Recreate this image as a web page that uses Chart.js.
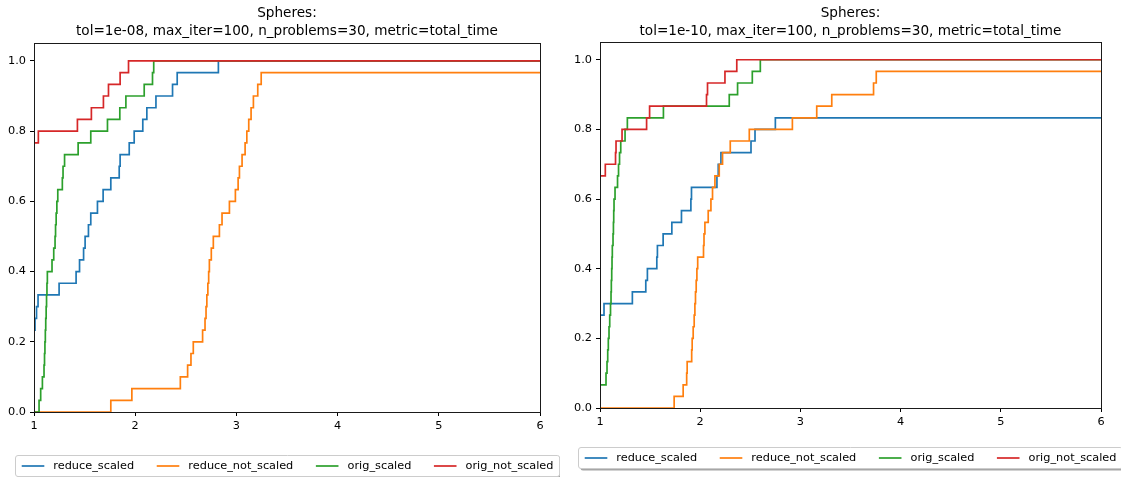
<!DOCTYPE html>
<html><head><meta charset="utf-8">
<script src="https://cdn.jsdelivr.net/npm/chart.js@4"></script>
<style>
html,body{margin:0;padding:0;background:#fff;width:1121px;height:477px;overflow:hidden}
#c1{position:absolute;left:0;top:0}
#c2{position:absolute;left:560px;top:0}
</style></head><body>
<canvas id="c1" width="560" height="477"></canvas>
<canvas id="c2" width="561" height="477"></canvas>
<script>
const SERIES_NAMES = ['reduce_scaled', 'reduce_not_scaled', 'orig_scaled', 'orig_not_scaled'];
const COLORS = ['#1f77b4', '#ff7f0e', '#2ca02c', '#d62728'];
const N_PROBLEMS = 30;
const X_TICKS = [1, 2, 3, 4, 5, 6];
const Y_TICKS = [0, 0.2, 0.4, 0.6, 0.8, 1.0];
const TITLE_LEFT = ['Spheres:', 'tol=1e-08, max_iter=100, n_problems=30, metric=total_time'];
const TITLE_RIGHT = ['Spheres:', 'tol=1e-10, max_iter=100, n_problems=30, metric=total_time'];

// ---- left panel (tol=1e-08): x = performance ratio, k = problems solved ----
const L_BLUE_X = [1, 1.010, 1.025, 1.040, 1.248, 1.416, 1.450, 1.490, 1.505, 1.538, 1.561, 1.627, 1.683, 1.759, 1.842, 1.851, 1.941, 1.990, 2.075, 2.115, 2.205, 2.369, 2.415, 2.822, 6];
const L_BLUE_K = [7, 8, 9, 10, 11, 12, 13, 14, 15, 16, 17, 18, 19, 20, 21, 22, 23, 24, 25, 26, 27, 28, 29, 30, 30];
const L_ORANGE_X = [1, 1.759, 1.967, 2.446, 2.518, 2.551, 2.574, 2.666, 2.690, 2.700, 2.708, 2.718, 2.726, 2.733, 2.752, 2.772, 2.832, 2.858, 2.931, 2.990, 3.017, 3.030, 3.056, 3.086, 3.103, 3.122, 3.145, 3.168, 3.211, 3.245, 6];
const L_ORANGE_K = [0, 1, 2, 3, 4, 5, 6, 7, 8, 9, 10, 11, 12, 13, 14, 15, 16, 17, 18, 19, 20, 21, 22, 23, 24, 25, 26, 27, 28, 29, 29];
const L_GREEN_X = [1, 1.050, 1.066, 1.083, 1.099, 1.104, 1.108, 1.112, 1.116, 1.120, 1.124, 1.128, 1.132, 1.178, 1.195, 1.208, 1.213, 1.219, 1.226, 1.235, 1.280, 1.287, 1.302, 1.436, 1.561, 1.726, 1.848, 1.908, 2.089, 2.171, 2.183, 6];
const L_GREEN_K = [0, 1, 2, 3, 4, 5, 6, 7, 8, 9, 10, 11, 12, 13, 14, 15, 16, 17, 18, 19, 20, 21, 22, 23, 24, 25, 26, 27, 28, 29, 30, 30];
const L_RED_X = [1, 1.043, 1.429, 1.567, 1.686, 1.736, 1.851, 1.934, 6];
const L_RED_K = [23, 24, 25, 26, 27, 28, 29, 30, 30];

// ---- right panel (tol=1e-10) ----
const R_BLUE_X = [1, 1.040, 1.323, 1.457, 1.473, 1.567, 1.573, 1.630, 1.717, 1.813, 1.907, 1.913, 2.167, 2.180, 2.207, 2.507, 2.547, 2.750, 6];
const R_BLUE_K = [8, 9, 10, 11, 12, 13, 14, 15, 16, 17, 18, 19, 20, 21, 22, 23, 24, 25, 25];
const R_ORANGE_X = [1, 1.740, 1.830, 1.865, 1.870, 1.915, 1.920, 1.930, 1.940, 1.947, 1.953, 1.960, 1.967, 1.975, 2.033, 2.038, 2.047, 2.080, 2.107, 2.123, 2.147, 2.190, 2.223, 2.300, 2.490, 2.920, 3.163, 3.313, 3.730, 3.757, 6];
const R_ORANGE_K = [0, 1, 2, 3, 4, 5, 6, 7, 8, 9, 10, 11, 12, 13, 14, 15, 16, 17, 18, 19, 20, 21, 22, 23, 24, 25, 26, 27, 28, 29, 29];
const R_GREEN_X = [1, 1.060, 1.070, 1.077, 1.083, 1.090, 1.097, 1.105, 1.110, 1.113, 1.117, 1.120, 1.123, 1.130, 1.134, 1.137, 1.140, 1.150, 1.175, 1.185, 1.195, 1.207, 1.250, 1.273, 1.633, 2.290, 2.373, 2.520, 2.600, 6];
const R_GREEN_K = [2, 3, 4, 5, 6, 7, 8, 9, 10, 11, 12, 13, 14, 15, 16, 17, 18, 19, 20, 21, 22, 23, 24, 25, 26, 27, 28, 29, 30, 30];
const R_RED_X = [1, 1.053, 1.155, 1.160, 1.220, 1.465, 1.495, 2.063, 2.073, 2.247, 2.365, 6];
const R_RED_K = [20, 21, 22, 23, 24, 25, 26, 27, 28, 29, 30, 30];

const LEFT_DATA = [[L_BLUE_X, L_BLUE_K], [L_ORANGE_X, L_ORANGE_K], [L_GREEN_X, L_GREEN_K], [L_RED_X, L_RED_K]];
const RIGHT_DATA = [[R_BLUE_X, R_BLUE_K], [R_ORANGE_X, R_ORANGE_K], [R_GREEN_X, R_GREEN_K], [R_RED_X, R_RED_K]];

const FONT = 'DejaVu Sans';
const TICK_FS = 11.3;

const framePlugin = {
  id: 'frame',
  afterDatasetsDraw(chart) {
    const {ctx, chartArea: a} = chart;
    ctx.save();
    ctx.strokeStyle = '#1a1a1a';
    ctx.lineWidth = 1;
    const l = Math.round(a.left) + 0.5, t = Math.round(a.top) + 0.5;
    const r = Math.round(a.right) + 0.5, b = Math.round(a.bottom) + 0.5;
    ctx.strokeRect(l, t, r - l, b - t);
    ctx.restore();
  }
};

function rr(ctx, x, y, w, h, r) {
  ctx.beginPath();
  ctx.moveTo(x + r, y);
  ctx.lineTo(x + w - r, y); ctx.arcTo(x + w, y, x + w, y + r, r);
  ctx.lineTo(x + w, y + h - r); ctx.arcTo(x + w, y + h, x + w - r, y + h, r);
  ctx.lineTo(x + r, y + h); ctx.arcTo(x, y + h, x, y + h - r, r);
  ctx.lineTo(x, y + r); ctx.arcTo(x, y, x + r, y, r);
  ctx.closePath();
}

const legendPlugin = {
  id: 'mplLegend',
  afterDraw(chart, args, opts) {
    const ctx = chart.ctx, a = chart.chartArea;
    const fs = TICK_FS;
    ctx.save();
    ctx.font = fs + 'px "' + FONT + '"';
    const handle = 2 * fs, hpad = 0.8 * fs, colsp = 2 * fs, padX = 0.55 * fs;
    const items = chart.data.datasets.map(d => ({label: d.label, color: d.borderColor, w: ctx.measureText(d.label).width}));
    const total = padX * 2 + items.reduce((s, it) => s + handle + hpad + it.w, 0) + colsp * (items.length - 1);
    const cx = (a.left + a.right) / 2;
    const x0 = Math.round(cx - total / 2) + 0.5, y0 = opts.top + 0.5, h = opts.height;
    rr(ctx, x0 + 2, y0 + 2, total, h, 2.5);
    ctx.fillStyle = 'rgba(77,77,77,0.5)';
    ctx.fill();
    rr(ctx, x0, y0, total, h, 2.5);
    ctx.fillStyle = '#fff';
    ctx.fill();
    ctx.strokeStyle = '#cccccc';
    ctx.lineWidth = 1;
    ctx.stroke();
    let x = x0 + padX;
    const cy = y0 + h / 2;
    items.forEach(it => {
      ctx.beginPath();
      ctx.strokeStyle = it.color;
      ctx.lineWidth = 1.7;
      ctx.moveTo(x, cy); ctx.lineTo(x + handle, cy);
      ctx.stroke();
      ctx.fillStyle = '#000';
      ctx.textBaseline = 'middle';
      ctx.textAlign = 'left';
      ctx.fillText(it.label, x + handle + hpad, cy);
      x += handle + hpad + it.w + colsp;
    });
    ctx.restore();
  }
};

function makeChart(id, title, data, o) {
  return new Chart(document.getElementById(id), {
    type: 'line',
    data: {
      datasets: SERIES_NAMES.map((name, i) => ({
        label: name,
        data: data[i][0].map((x, j) => ({x: x, y: data[i][1][j] / N_PROBLEMS})),
        borderColor: COLORS[i],
        backgroundColor: COLORS[i],
        borderWidth: 1.7,
        pointRadius: 0,
        pointHoverRadius: 0,
        stepped: true,
        fill: false,
        order: SERIES_NAMES.length - 1 - i
      }))
    },
    options: {
      responsive: false,
      animation: false,
      devicePixelRatio: 1,
      events: [],
      layout: {padding: {left: 0, right: o.padRight, top: 0, bottom: o.padBottom}},
      plugins: {
        legend: {display: false},
        tooltip: {enabled: false},
        title: {
          display: true, text: title, fullSize: false, color: '#000',
          font: {family: FONT, size: 13.6, weight: 'normal', lineHeight: 1.3},
          padding: {top: 5, bottom: o.titleBottom}
        },
        mplLegend: {top: o.legendTop, height: 21}
      },
      scales: {
        x: {
          type: 'linear', min: 1, max: 6,
          afterBuildTicks: s => { s.ticks = X_TICKS.map(v => ({value: v})); },
          afterFit: s => { s.height = 20; },
          grid: {display: true, drawOnChartArea: false, drawTicks: true, tickLength: 4, color: '#000', lineWidth: 1},
          border: {display: false},
          ticks: {color: '#000', font: {family: FONT, size: TICK_FS}, padding: 3, maxRotation: 0, autoSkip: false, callback: v => String(v)}
        },
        y: {
          type: 'linear', min: 0, max: 1.05,
          afterBuildTicks: s => { s.ticks = Y_TICKS.map(v => ({value: v})); },
          afterFit: s => { s.width = o.yWidth; },
          grid: {display: true, drawOnChartArea: false, drawTicks: true, tickLength: 4, color: '#000', lineWidth: 1},
          border: {display: false},
          ticks: {color: '#000', font: {family: FONT, size: TICK_FS}, padding: 4, autoSkip: false, callback: v => Number(v).toFixed(1)}
        }
      }
    },
    plugins: [framePlugin, legendPlugin]
  });
}

makeChart('c1', TITLE_LEFT, LEFT_DATA, {yWidth: 34, padRight: 20, padBottom: 45, legendTop: 455, titleBottom: 3});
makeChart('c2', TITLE_RIGHT, RIGHT_DATA, {yWidth: 40, padRight: 20, padBottom: 49, legendTop: 447, titleBottom: 2});
</script>
</body></html>
